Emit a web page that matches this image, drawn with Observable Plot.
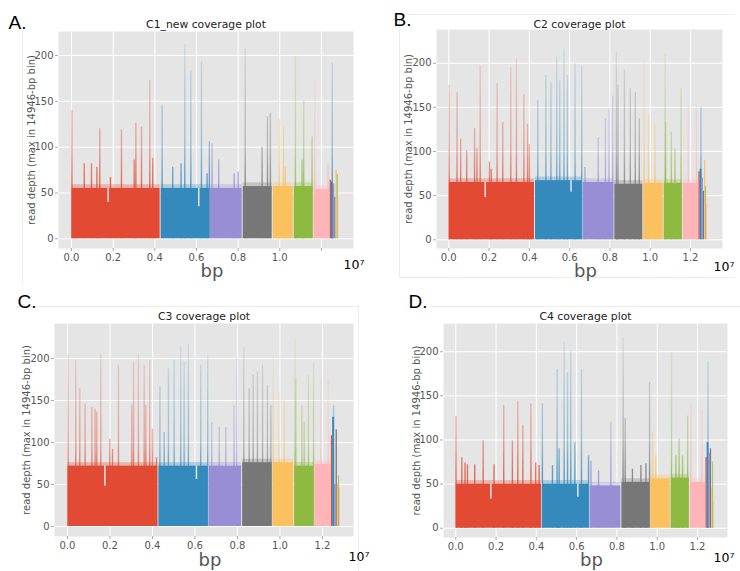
<!DOCTYPE html>
<html><head><meta charset="utf-8">
<script src="https://cdn.jsdelivr.net/npm/d3@7"></script>
<script src="https://cdn.jsdelivr.net/npm/@observablehq/plot@0.6"></script>
<style>
html,body{margin:0;padding:0;background:#fff;}
#root{position:relative;width:740px;height:571px;overflow:hidden;background:#fff;font-family:"DejaVu Sans",sans-serif;}
.panel{position:absolute;}
.ln{position:absolute;background:#ededed;}
</style></head><body><div id="root"></div>
<script>
// ---------- data (positions in Mb; tick labels shown in units of 10^7 bp) ----------
const chromEdgesMb = [0, 4.28, 6.65, 8.22, 9.66, 10.67, 11.62, 12.42, 12.48, 12.57, 12.64, 12.70, 12.76, 12.80, 12.84];
const palette = ["#E24A33", "#348ABD", "#988ED5", "#777777", "#FBC15E", "#8EBA42", "#FFB5B8"];
const panelLetters = ["A.", "B.", "C.", "D."];
const panelTitles = ["C1_new coverage plot", "C2 coverage plot", "C3 coverage plot", "C4 coverage plot"];
const xTickValues = [0, 2, 4, 6, 8, 10, 12];
const xTickLabels = ["0.0", "0.2", "0.4", "0.6", "0.8", "1.0", "1.2"];
const yTickValues = [0, 50, 100, 150, 200];
const yAxisLabel = "read depth (max in 14946-bp bin)";
const xAxisLabel = "bp";
const xOffsetLabel = "10⁷";

// baseline read depth per chromosome
const baselineC1 = [55, 55, 55, 57, 57, 57, 54, 64, 62, 60, 45, 75, 70, 44];
const baselineC2 = [65, 67, 65, 63, 64, 64, 64, 77, 80, 70, 55, 90, 60, 40];
const baselineC3 = [72, 72, 72, 76, 76, 72, 74, 108, 130, 50, 115, 50, 60, 45];
const baselineC4 = [50, 50, 48, 52, 56, 57, 52, 80, 97, 85, 90, 45, 75, 30];

// spikes [position Mb, max depth]
const spikesC1 = [[0.02,140],[0.61,82],[0.96,82],[1.22,78],[1.36,120],[1.87,67],[2.40,119],[3.01,86],[3.09,126],[3.36,122],[3.76,173],[3.90,88],
  [4.35,146],[4.86,78],[5.26,82],[5.44,212],[5.73,183],[6.24,193],[6.51,71],[6.62,106],
  [6.75,104],[7.07,86],[7.81,71],[8.00,73],
  [8.34,208],[9.15,100],[9.41,133],[9.55,137],
  [9.98,130],[10.18,122],[10.27,78],
  [10.75,199],[11.07,86],[11.15,150],[11.55,111],
  [11.68,173],[12.32,82],[12.52,192]];
const spikesC2 = [[0.02,175],[0.41,167],[0.59,114],[0.89,101],[1.28,126],[1.40,103],[1.56,197],[2.02,88],[2.11,80],[2.40,177],[2.68,133],[3.08,195],[3.36,205],[3.73,165],[3.91,131],[4.00,108],
  [4.42,158],[4.82,186],[5.07,178],[5.36,207],[5.51,180],[5.72,216],[5.89,186],[6.27,199],[6.60,197],
  [6.76,82],[7.42,116],[7.78,137],[7.96,148],[8.14,163],
  [8.32,212],[8.40,175],[8.72,192],[9.01,171],[9.26,167],[9.46,137],
  [9.70,203],[9.92,141],[10.25,131],
  [10.74,211],[10.77,133],[11.05,122],[11.23,103],[11.53,171],
  [11.89,152],[12.30,152],[12.52,150]];
const spikesC3 = [[0.03,205],[0.39,198],[0.58,164],[0.83,146],[1.15,142],[1.30,140],[1.38,136],[1.57,205],[1.99,104],[2.12,92],[2.40,192],[3.03,144],[3.11,196],[3.34,205],[3.61,192],[3.69,144],[3.87,198],[4.00,116],[4.19,82],
  [4.35,166],[4.55,112],[4.75,188],[5.02,198],[5.33,214],[5.49,196],[5.69,217],[6.27,192],[6.60,202],
  [6.79,124],[7.14,118],[7.45,118],[7.84,144],[7.97,200],
  [8.30,213],[8.55,164],[8.74,180],[8.94,184],[9.18,192],[9.41,168],[9.57,144],
  [9.68,204],[9.96,160],[10.20,150],
  [10.71,223],[10.75,176],[11.03,144],[11.14,124],[11.34,180],[11.58,194],
  [11.92,178],[12.27,174],[12.52,144]];
const spikesC4 = [[0.01,127],[0.30,80],[0.46,74],[0.58,72],[0.94,72],[1.36,99],[1.90,72],[2.38,139],[2.81,99],[3.08,144],[3.33,116],[3.73,141],[3.97,74],[4.14,71],
  [4.30,141],[4.80,71],[5.03,180],[5.13,90],[5.38,211],[5.55,176],[5.71,201],[5.91,97],[6.24,180],[6.59,82],
  [6.71,76],[7.09,65],[7.70,120],
  [8.31,216],[8.41,124],[8.77,67],[9.19,71],[9.44,73],[9.62,165],
  [9.77,108],[9.93,82],
  [10.71,199],[10.93,82],[11.09,101],[11.26,82],[11.51,127],
  [11.67,139],[12.22,133],[12.52,188]];

// coverage dips [position Mb, depth]
const dipsC1 = [[1.76,40],[6.11,35]];
const dipsC2 = [[1.81,48],[6.07,54]];
const dipsC3 = [[1.76,48],[6.07,56]];
const dipsC4 = [[1.74,33],[6.06,35]];

const baselines = [baselineC1, baselineC2, baselineC3, baselineC4];
const spikeSets = [spikesC1, spikesC2, spikesC3, spikesC4];
const dipSets = [dipsC1, dipsC2, dipsC3, dipsC4];

// ---------- layout ----------
const layout = [
  {left:0,   top:0,   w:370, h:285, ml:58, mr:17, mt:31, mb:37, xd:[-0.624,13.54], yd:[-10.6,226.2], titleDy:-4, letDx:-50, letDy:-3, ylabDx:-27, bpDy:28, offDx:-10, offDy:20, hide12:true},
  {left:370, top:0,   w:370, h:285, ml:66, mr:18, mt:29, mb:37, xd:[-0.61,13.59],  yd:[-9.85,238.2], titleDy:-2, letDx:-43, letDy:-4, ylabDx:-28, bpDy:28, offDx:-9,  offDy:22},
  {left:0,   top:285, w:370, h:286, ml:54, mr:17, mt:38, mb:35, xd:[-0.61,13.46],  yd:[-11.9,241.7], titleDy:-3.5, letDx:-37, letDy:-16, ylabDx:-28, bpDy:29, offDx:-5, offDy:24},
  {left:370, top:285, w:370, h:286, ml:73, mr:13, mt:38, mb:34, xd:[-0.61,13.49],  yd:[-10.5,232],   titleDy:-3.5, letDx:-35, letDy:-16, ylabDx:-27, bpDy:28, offDx:-14, offDy:24}
];

const root = document.getElementById("root");
[[22,31,1,253],[399,14,336,1],[399,14,1,263],[399,277,336,1],[17,306,341,1],[358,306,1,265],[430,306,310,1]].forEach(([l,t,w,h]) => {
  const d = document.createElement("div"); d.className = "ln";
  Object.assign(d.style, {left:l+"px", top:t+"px", width:w+"px", height:h+"px"});
  root.appendChild(d);
});

function drawPanel(i) {
  const cfg = layout[i];
  const chroms = d3.range(chromEdgesMb.length - 1).map(k => ({
    start: chromEdgesMb[k], end: chromEdgesMb[k + 1], depth: baselines[i][k],
    color: palette[k % palette.length], main: k < 7
  }));
  const chromOf = x => Math.max(0, Math.min(chroms.length - 1, d3.bisectRight(chromEdgesMb, x) - 1));
  const gid = "fade" + i + "_";
  const spikes = spikeSets[i].map(([x, v]) => ({x, v, g: `url(#${gid}${chromOf(x) % palette.length})`}));
  const dips = dipSets[i].map(([x, v]) => ({x, v, top: chroms[chromOf(x)].depth}));
  const mains = chroms.filter(d => d.main);

  const svg = Plot.plot({
    width: cfg.w, height: cfg.h,
    marginLeft: cfg.ml, marginRight: cfg.mr, marginTop: cfg.mt, marginBottom: cfg.mb,
    x: {domain: cfg.xd},
    y: {domain: cfg.yd},
    color: {type: "identity"},
    style: {background: "transparent", fontFamily: "DejaVu Sans", fontSize: "10px", overflow: "visible"},
    marks: [
      Plot.frame({fill: "#E5E5E5", stroke: null}),
      Plot.gridX(xTickValues, {stroke: "#fff", strokeOpacity: 1, strokeWidth: 1}),
      Plot.gridY(yTickValues, {stroke: "#fff", strokeOpacity: 1, strokeWidth: 1}),
      Plot.ruleX(spikes, {x: "x", y1: d => 0, y2: "v", stroke: "g", strokeWidth: 1.4}),
      // ragged upper fringe of the coverage band
      Plot.rect(mains, {x1: "start", x2: "end", y1: "depth", y2: d => d.depth + 4, fill: "color", fillOpacity: 0.3, insetLeft: 0.5, insetRight: 0.5}),
      Plot.rect(mains, {x1: "start", x2: "end", y1: d => 0, y2: "depth", fill: "color", insetLeft: 0.5, insetRight: 0.5}),
      Plot.rect(chroms.filter(d => !d.main), {x1: "start", x2: "end", y1: d => 0, y2: "depth", fill: "color"}),
      Plot.ruleX(dips, {x: "x", y1: "v", y2: "top", stroke: d => "#E5E5E5", strokeWidth: 1.5}),
      Plot.axisX({ticks: xTickValues, tickFormat: d => (cfg.hide12 && d === 12) ? "" : xTickLabels[xTickValues.indexOf(d)],
        tickSize: 3, tickPadding: 2, label: null, fill: "#555", stroke: "#aaa", fontSize: 10}),
      Plot.axisY({ticks: yTickValues, tickSize: 3, tickPadding: 2, label: null, fill: "#555", stroke: "#aaa", fontSize: 10}),
      Plot.text([panelTitles[i]], {text: d => d, frameAnchor: "top", lineAnchor: "bottom", dy: cfg.titleDy, fontSize: 10.8, fill: "#222"}),
      Plot.text([panelLetters[i]], {text: d => d, frameAnchor: "top-left", textAnchor: "start", lineAnchor: "bottom", dx: cfg.letDx, dy: cfg.letDy, fontSize: 19, fontFamily: "Liberation Sans", fill: "#000"}),
      Plot.text([yAxisLabel], {text: d => d, frameAnchor: "left", rotate: -90, textAnchor: "middle", lineAnchor: "middle", dx: cfg.ylabDx, fontSize: 10, fill: "#555"}),
      Plot.text([xAxisLabel], {text: d => d, frameAnchor: "bottom", lineAnchor: "bottom", dx: 6, dy: cfg.bpDy, fontSize: 18, fill: "#555"}),
      Plot.text([xOffsetLabel], {text: d => d, frameAnchor: "bottom-right", textAnchor: "start", lineAnchor: "bottom", dx: cfg.offDx, dy: cfg.offDy, fontSize: 12.5, fill: "#000"})
    ]
  });

  // vertical fade for the thin spikes
  const ys = svg.scale("y");
  const ns = "http://www.w3.org/2000/svg";
  const defs = document.createElementNS(ns, "defs");
  palette.forEach((c, k) => {
    const lg = document.createElementNS(ns, "linearGradient");
    lg.setAttribute("id", gid + k);
    lg.setAttribute("gradientUnits", "userSpaceOnUse");
    lg.setAttribute("x1", 0); lg.setAttribute("x2", 0);
    lg.setAttribute("y1", ys.apply(60)); lg.setAttribute("y2", ys.apply(220));
    [[0, 0.8], [0.25, 0.45], [1, 0.12]].forEach(([o, a]) => {
      const s = document.createElementNS(ns, "stop");
      s.setAttribute("offset", o); s.setAttribute("stop-color", c); s.setAttribute("stop-opacity", a);
      lg.appendChild(s);
    });
    defs.appendChild(lg);
  });
  svg.insertBefore(defs, svg.firstChild);

  const wrap = document.createElement("div");
  wrap.className = "panel";
  Object.assign(wrap.style, {left: cfg.left + "px", top: cfg.top + "px", width: cfg.w + "px", height: cfg.h + "px"});
  wrap.appendChild(svg);
  root.appendChild(wrap);
}
[0, 1, 2, 3].forEach(drawPanel);
</script></body></html>
